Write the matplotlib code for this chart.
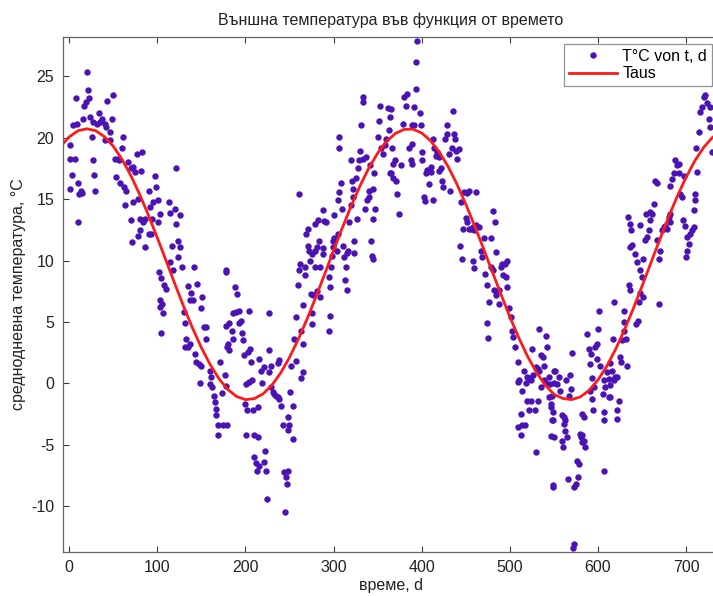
import matplotlib

matplotlib.use("Agg")
import matplotlib.pyplot as plt
import numpy as np

obs_0_180 = [
    (0.4, 19.4), (1, 18.3), (6, 18.3), (3.4, 17.0), (1, 15.8), (10, 16.3), (11, 15.4), (14, 15.5),
    (13, 15.7), (10.3, 13.1), (7.2, 23.2), (4, 21.0), (8.7, 21.1), (16, 21.5), (17, 22.6), (19, 22.9),
    (20, 25.35), (21, 23.9), (22, 23.2), (23, 21.7), (27, 21.3), (31, 21.1), (34, 22.0), (35, 21.3),
    (37, 21.5), (40, 21.1), (42, 20.9), (26, 20.1), (27, 18.2), (28, 17.0), (29, 15.7), (42.5, 23.0),
    (49.6, 23.5), (49, 21.5), (46.6, 20.5), (46, 19.8), (40.2, 19.8), (61, 20.1), (60.2, 19.2),
    (51.5, 18.3), (55.3, 18.3), (56.4, 18.2), (52.6, 16.8), (57.2, 16.3), (61.7, 16.0), (64.8, 15.7),
    (62.9, 14.5), (66.7, 18.0), (70.4, 17.5), (74.2, 17.2), (72.3, 17.6), (76.9, 18.7), (83, 18.8),
    (81.8, 17.3), (70.4, 13.3), (72.3, 14.8), (78, 15.0), (80, 13.4), (83.7, 13.1), (85.6, 13.4),
    (80.7, 12.5), (78, 12.0), (71.6, 11.5), (85.6, 11.1), (90.5, 15.7), (92, 14.4), (95, 14.8),
    (98.8, 16.0), (100.7, 14.9), (97.3, 16.9), (90.5, 12.2), (93.2, 12.2), (94.3, 13.4), (100.7, 13.1),
    (102.6, 13.8), (121.5, 17.5), (113.2, 14.8), (114, 13.9), (119.6, 14.2), (121.5, 13.0),
    (125.3, 13.7), (126.1, 11.1), (123.4, 11.6), (117, 11.2), (114.7, 9.9), (117.7, 9.2), (123.4, 10.3),
    (128.3, 9.5), (101.9, 9.1), (104.5, 8.6), (107.5, 8.0), (110.2, 7.7), (102.6, 6.8), (105.6, 6.5),
    (106.4, 5.7), (103.4, 6.2), (103.7, 4.1), (141.2, 9.5), (135.2, 7.9), (138.6, 7.4), (136.7, 6.8),
    (140.5, 6.8), (145.4, 8.1), (151.1, 7.0), (129.9, 5.8), (131, 4.9), (150, 6.1), (152.6, 4.6),
    (154.9, 4.6), (155.6, 3.6), (132.9, 3.6), (134.8, 2.95), (136.7, 3.2), (131, 2.95), (142.4, 2.4),
    (144.3, 1.75), (147.3, 1.6), (150, 1.45), (148, 0.0), (159.4, 1.05), (161.3, 0.5), (159.4, -0.05),
    (162.4, -0.3), (164, -1.0), (165, -1.5), (166.2, -2.1), (167, -2.6), (168.9, -3.4), (174.5, -3.4),
    (168.9, -4.2), (173.8, -0.8), (170.8, 1.75), (176.4, 0.65), (177.5, 9.1), (178.3, 4.7), (179, 2.95),
]
obs_180_365 = [
    (178, -0.2), (178.5, -3.4), (178.2, 9.2), (188.5, 7.85), (190, 7.3), (185.5, 5.7), (189.3, 5.8),
    (193, 5.9), (195, 5.1), (193, 4.9), (196.1, 4.1), (181.7, 4.9), (184.8, 4.3), (179.8, 3.2),
    (181.7, 2.7), (185.5, 3.6), (196.9, 3.5), (198.8, 2.3), (204.4, 5.9), (205.2, 2.8), (202.5, 2.55),
    (206.3, 1.75), (200.7, -0.05), (204.4, 0.1), (207.5, 0.25), (200, -1.7), (201.4, -2.2),
    (208.2, -2.2), (213.9, -1.95), (200.7, -4.2), (210.1, -4.2), (213.9, -4.4), (210.1, -6.0),
    (212, -6.5), (212.8, -7.1), (215.8, -6.7), (221.5, -6.4), (222.6, -5.5), (223.4, -7.1),
    (224.1, -9.4), (215.8, 2.0), (217.7, 1.05), (218.8, 0.0), (221.5, 1.35), (227.2, 5.7), (226.4, 2.7),
    (226.4, 0.9), (229.1, 1.45), (236.6, 1.7), (238.5, 1.9), (229.1, -0.3), (231, -0.7), (232.8, -0.85),
    (234.7, -1.0), (236.6, -1.1), (238.5, -1.25), (240.4, -1.8), (242.3, -3.4), (248, -2.75),
    (249.9, -3.4), (248, -3.8), (253.6, -4.5), (244.2, -7.2), (246.1, -7.6), (246.8, -8.2), (248, -7.1),
    (245.3, -10.5), (250.6, -0.7), (253.6, -1.8), (251.8, 1.45), (257.4, 1.85), (265, 0.9), (263.1, 0.4),
    (255.5, 3.6), (257.4, 5.4), (265, 3.2), (263.1, 4.3), (259.3, 8.0), (260.5, 9.2), (262, 9.7),
    (268, 9.5), (267, 8.8), (261.2, 15.4), (265.8, 6.35), (275.6, 5.7), (275.6, 4.8), (277.1, 7.2),
    (274.5, 7.3), (268.8, 12.2), (270.7, 12.6), (270.7, 11.2), (272.6, 10.8), (273.3, 10.0),
    (275.6, 10.5), (279.4, 10.8), (280.9, 11.1), (283.2, 11.6), (287.7, 11.05), (288.5, 10.5),
    (284.7, 9.5), (279.4, 9.5), (284.7, 7.0), (280.9, 7.5), (279.4, 13.0), (282.1, 13.3), (288.5, 14.1),
    (289.6, 13.2), (291.5, 13.1), (294.5, 8.65), (296, 7.85), (295.3, 4.3), (296, 5.5), (297.2, 9.5),
    (298.3, 10.4), (299.8, 11.1), (299.1, 11.6), (301, 11.8), (303.6, 10.8), (304.8, 12.2), (301, 13.7),
    (304.8, 14.9), (305.9, 15.6), (308.5, 16.3), (309.7, 14.2), (306.6, 20.1), (306.7, 19.2),
    (311.2, 11.2), (312.3, 10.3), (315, 10.6), (316.1, 10.8), (314.2, 9.5), (313.5, 8.4), (315, 7.6),
    (317.2, 13.1), (319.9, 14.5), (321.8, 15.2), (322.5, 15.85), (321, 16.5), (325.6, 16.7),
    (327.5, 17.5), (329.4, 18.2), (330.1, 18.9), (331.3, 21.0), (319.9, 18.2), (323.7, 10.6),
    (323.7, 11.6), (326.3, 13.4), (333.1, 23.3), (333.2, 22.9), (333.9, 18.3), (336.9, 18.4),
    (340, 15.2), (340.7, 15.7), (344.5, 15.85), (336.2, 14.2), (337.7, 14.9), (341.5, 17.75),
    (344.5, 13.4), (347.5, 14.2), (342.6, 11.6), (343.7, 10.4), (344.5, 10.15), (346.4, 17.1),
    (350.2, 20.05), (351.3, 21.4), (352.8, 22.6), (354, 19.2), (355.9, 18.7), (357.8, 19.4),
    (359.7, 19.9), (361.5, 22.4), (363.4, 20.6), (363.5, 17.1),
]
obs_365_545 = [
    (365, 22.35), (363.8, 21.7), (366.1, 19.2), (367.6, 17.9), (369.9, 18.15), (365, 17.1),
    (367.6, 16.7), (370.6, 16.5), (372.5, 15.4), (374.4, 13.8), (380.1, 23.3), (382, 22.6),
    (383.9, 23.6), (379, 21.1), (385.8, 19.2), (387.7, 18.15), (389.5, 17.9), (376.3, 17.75),
    (391.4, 22.5), (393.3, 24.0), (393.3, 26.2), (395.2, 27.9), (389.5, 21.0), (391.4, 21.0),
    (397.9, 22.0), (399, 21.0), (388.8, 19.45), (400.9, 18.8), (400.1, 18.15), (402.8, 15.2),
    (404.7, 17.1), (403.9, 14.85), (408.5, 16.25), (410.4, 17.2), (412.3, 14.9), (406.6, 17.4),
    (410.4, 17.6), (412.3, 19.9), (414.1, 19.2), (416, 18.55), (417.9, 18.8), (419.8, 18.4),
    (421.7, 17.5), (423.6, 16.5), (424.4, 16.0), (426.6, 19.9), (429.3, 21.0), (428.2, 20.3),
    (431.2, 18.7), (431.9, 15.7), (419.8, 17.3), (434.2, 19.2), (435.7, 22.2), (436.9, 20.3),
    (438, 19.9), (438.7, 18.95), (440.6, 18.3), (442.5, 19.1), (444.4, 14.75), (448.2, 15.6),
    (452, 15.5), (453.9, 15.65), (461.5, 15.6), (450.1, 13.5), (452, 13.1), (453.9, 12.6), (457.7, 12.7),
    (459.6, 12.45), (461.5, 12.9), (464.5, 12.7), (447.1, 12.6), (455.8, 12.6), (443.3, 11.15),
    (445.6, 10.15), (457.7, 9.95), (459.6, 9.4), (467.1, 10.8), (469, 10.3), (470.9, 11.8), (478.5, 11.8),
    (481.1, 14.0), (483.4, 13.1), (484.9, 10.7), (472, 8.9), (474.7, 8.0), (476.6, 6.6), (474.7, 4.9),
    (475.8, 3.7), (478.5, 9.5), (480.4, 9.2), (482.3, 7.6), (484.2, 7.2), (487.2, 6.5), (488, 7.6),
    (489.8, 9.5), (491.7, 9.7), (492.5, 8.8), (494.8, 9.7), (495.5, 8.65), (497.4, 10.0), (496.3, 7.85),
    (499.3, 6.15), (501.2, 5.4), (502.3, 4.3), (503.8, 3.8), (506.1, 3.0), (508.8, 1.75), (510.7, 0.25),
    (508.8, 0.1), (513.7, -0.6), (516.3, 1.05), (518.2, 0.0), (520.1, 0.5), (522, 0.4), (523.9, 0.3),
    (526.6, 0.65), (519, -1.4), (522, -2.2), (523.9, -1.4), (528.8, -2.2), (531.5, -1.4),
    (512.6, -2.45), (509.9, -3.55), (514.4, -3.4), (517.5, -3.4), (512.6, -4.2), (530.3, -5.6),
    (525, 2.8), (533.4, 4.45), (535.3, 2.3), (537.2, 2.15), (540.9, 3.9), (542.8, 2.95), (539, 1.45),
    (531.5, 1.2), (529.6, 1.3), (533.4, 1.05), (535.3, -0.3), (539, 0.25), (540.9, 0.0), (544.7, 0.5),
    (544.7, -1.1), (546.6, -1.9), (548.5, -2.35), (547.8, -3.0), (546.6, -4.3), (548.5, -8.45),
    (550.4, 1.05), (550.4, 0.0),
]
obs_545_730 = [
    (545.9, -0.05), (547.8, -1.0), (546.7, -1.65), (548.9, -3.0), (549.7, -4.4), (548.9, -8.3),
    (551.6, 1.05), (553.5, -0.05), (555.4, 0.5), (557.3, -0.6), (559.1, -2.6), (561, -2.75),
    (562.9, -3.0), (563, -3.85), (564.8, -4.4), (561.8, -3.3), (560.3, -5.2), (559.2, -4.65),
    (564.1, 0.25), (568.6, 0.65), (569.4, -0.45), (570.5, 2.45), (566.7, -1.0), (565.6, -7.8),
    (573.2, -8.45), (575.4, -8.2), (576.9, -7.6), (576.2, -6.3), (578.1, -6.55), (572.4, -13.05),
    (571.6, -13.4), (579.2, -4.1), (580.7, -4.4), (581.9, -4.2), (583.7, -4.65), (585.6, -5.2),
    (581.9, -4.8), (581.9, -2.45), (583.8, -2.75), (591.3, -0.6), (593.2, -1.25), (594.3, -2.2),
    (593.2, 0.4), (595.1, -0.3), (590.6, 1.6), (589.4, 2.8), (587.5, 4.0), (592.1, 2.4), (597, 2.95),
    (598.9, 3.2), (599.6, 4.45), (600.8, 5.9), (598.9, 2.0), (602.7, 1.45), (606.5, 0.25), (608.4, -0.3),
    (606.5, -2.35), (606.6, -3.0), (607.2, -7.1), (605.7, -0.85), (610.2, 0.9), (612.1, 0.35),
    (614, -0.15), (612.1, -1.1), (614.1, -1.1), (615.9, 1.05), (617.8, 0.25), (619.7, 0.5), (621.6, 0.5),
    (623.5, -1.4), (621.6, -2.2), (621.7, -2.9), (614, 1.7), (617.1, 3.65), (618.6, 6.6), (625.4, 2.15),
    (626.1, 1.75), (627.3, 3.5), (629.2, 4.3), (629.9, 5.9), (630, 5.0), (632.2, 3.65), (633, 1.45),
    (634.8, 8.0), (636.7, 7.6), (643.5, 4.85), (645.1, 5.1), (646.2, 6.6), (648.1, 7.4), (650, 8.65),
    (651.1, 7.0), (633.7, 13.55), (636, 13.0), (637.5, 12.45), (636.7, 11.1), (638.6, 11.25),
    (642.4, 10.55), (644.3, 9.9), (647.3, 9.2), (648.1, 12.9), (653.8, 11.65), (655.7, 11.9),
    (657.6, 12.45), (654.9, 13.8), (658.7, 13.95), (661.3, 13.8), (663.2, 14.6), (659.4, 13.3),
    (651.1, 10.15), (668.9, 6.5), (668.9, 10.15), (670, 10.8), (667, 11.65), (665.1, 16.5), (667, 16.3),
    (672.7, 12.45), (674.6, 12.7), (676.5, 12.85), (678.4, 12.6), (680.3, 13.55), (682.2, 13.8),
    (681.4, 13.15), (682.2, 16.1), (684.1, 16.65), (686, 17.1), (687.8, 18.15), (689.7, 17.75),
    (691.6, 17.1), (693.5, 15.45), (695.4, 15.2), (696.5, 13.3), (691.6, 17.9), (697.3, 16.9),
    (699.2, 12.85), (701.1, 11.9), (701.2, 10.8), (700.3, 10.3), (703, 11.35), (704.9, 12.2),
    (706.8, 12.45), (708.7, 12.7), (709.4, 14.1), (710.6, 14.9), (710.7, 15.45), (711.7, 19.2),
    (712.4, 17.2), (714.3, 20.5), (716.2, 22.1), (718.1, 22.5), (720, 23.3), (721.9, 23.45),
    (723.8, 22.8), (725.7, 21.55), (727.6, 20.9), (726.8, 22.5), (729.5, 18.8),
]

# fitted curve "Taus", sampled every 10 days
fit_days = list(range(-10, 750, 10))
fit_temp = [
    19.30, 20.08, 20.57, 20.73, 20.57, 20.08, 19.30, 18.22, 16.90, 15.36, 13.66, 11.84, 9.96, 8.07,
    6.23, 4.49, 2.90, 1.52, 0.37, -0.50, -1.07, -1.32, -1.24, -0.85, -0.14, 0.86, 2.12, 3.60, 5.26,
    7.05, 8.92, 10.82, 12.68, 14.45, 16.08, 17.53, 18.74, 19.69, 20.34, 20.68, 20.70, 20.39, 19.76,
    18.84, 17.65, 16.22, 14.60, 12.85, 11.01, 9.12, 7.25, 5.44, 3.75, 2.23, 0.93, -0.12, -0.88, -1.22,
    -1.32, -1.10, -0.57, 0.27, 1.39, 2.76, 4.33, 6.05, 7.89, 9.78, 11.66, 13.49, 15.21, 16.76, 18.11,
    19.20, 20.02, 20.53,
]

x_ticks = [0, 100, 200, 300, 400, 500, 600, 700]
y_ticks = [-10, -5, 0, 5, 10, 15, 20, 25]

plt.rcParams["font.family"] = ["Liberation Sans", "DejaVu Sans"]
plt.rcParams["axes.unicode_minus"] = False
GREY = "#3c3c3c"

obs = np.array(obs_0_180 + obs_180_365 + obs_365_545 + obs_545_730)

fig = plt.figure(figsize=(7.13, 5.96), dpi=100)
W, H = 713, 596
ax = fig.add_axes([62.7 / W, (H - 551.7) / H, (719 - 62.7) / W, (551.7 - 37) / H])

ax.plot(obs[:, 0], obs[:, 1], "o", ms=4.6, mec="none", color="#4b12b4", label="T°C von t, d")
ax.plot(fit_days, fit_temp, "-", color="#ff1a1a", lw=2.0, label="Taus")

ax.set_xlim(-7.5, 737.5)
ax.set_ylim(-13.7, 28.2)
ax.set_xticks(x_ticks)
ax.set_yticks(y_ticks)
ax.tick_params(direction="in", length=4, width=0.8, top=True, right=True,
               labelsize=11.5, colors=GREY, labelcolor="#222222", pad=6)
for sp in ax.spines.values():
    sp.set_color("#666666")
    sp.set_linewidth(0.9)

ax.set_title("Външна температура във функция от времето", fontsize=11.5, color="#222222", pad=9)
ax.set_xlabel("време, d", fontsize=11.5, color="#222222", labelpad=2)
ax.set_ylabel("среднодневна температура, °C", fontsize=11.5, color="#222222", labelpad=4)

leg = ax.legend(loc="upper right", fontsize=11.5, frameon=True, fancybox=False,
                handlelength=3.0, handletextpad=0.35, borderpad=0.3, labelspacing=0.15,
                borderaxespad=0.45, markerscale=1.0, numpoints=1)
leg.get_frame().set_edgecolor("#777777")
leg.get_frame().set_linewidth(0.9)

fig.savefig("out.png", dpi=100)
